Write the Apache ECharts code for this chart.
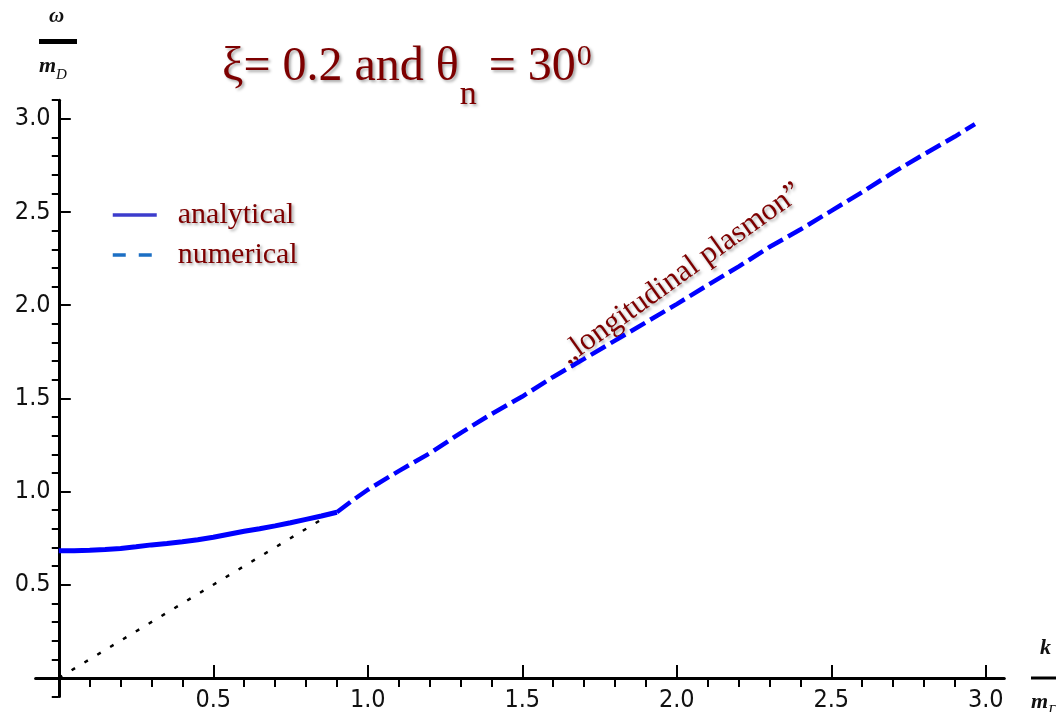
<!DOCTYPE html>
<html>
<head>
<meta charset="utf-8">
<style>
  html, body { margin: 0; padding: 0; background: #fff; }
  #chart { width: 1056px; height: 712px; }
</style>
<script src="https://cdn.jsdelivr.net/npm/echarts@6/dist/echarts.min.js"></script>
</head>
<body>
<div id="chart"></div>
<script>
// analytical branch (solid), below the light cone crossing
const kAnalytical = [0, 0.05, 0.1, 0.15, 0.2, 0.25, 0.3, 0.35, 0.4, 0.45, 0.5, 0.55, 0.6, 0.65, 0.7, 0.75, 0.8, 0.85, 0.9];
const wAnalytical = [0.683, 0.683, 0.685, 0.689, 0.695, 0.704, 0.714, 0.722, 0.731, 0.742, 0.755, 0.771, 0.787, 0.801, 0.816, 0.833, 0.851, 0.869, 0.889];

// numerical branch (dashed), "longitudinal plasmon"
const kNumerical = [0.9, 0.95, 1.0, 1.1, 1.2, 1.3, 1.4, 1.5, 1.6, 1.7, 1.8, 1.9, 2.0, 2.1, 2.2, 2.3, 2.4, 2.5, 2.6, 2.7, 2.8, 2.9, 2.965];
const wNumerical = [0.889, 0.952, 1.01, 1.11, 1.205, 1.314, 1.416, 1.51, 1.615, 1.712, 1.81, 1.908, 2.006, 2.108, 2.207, 2.312, 2.406, 2.506, 2.607, 2.712, 2.81, 2.905, 2.972];

// light cone omega = k (dotted)
const kLight = [0, 0.9];
const wLight = [0, 0.9];

// ticks
const xMajor = [0.5, 1.0, 1.5, 2.0, 2.5, 3.0];
const xMinor = [0.1, 0.2, 0.3, 0.4, 0.6, 0.7, 0.8, 0.9, 1.1, 1.2, 1.3, 1.4, 1.6, 1.7, 1.8, 1.9,
                2.1, 2.2, 2.3, 2.4, 2.6, 2.7, 2.8, 2.9];
const yMajor = [0.5, 1.0, 1.5, 2.0, 2.5, 3.0];
const yMinor = [-0.1, 0.1, 0.2, 0.3, 0.4, 0.6, 0.7, 0.8, 0.9, 1.1, 1.2, 1.3, 1.4, 1.6, 1.7, 1.8, 1.9,
                2.1, 2.2, 2.3, 2.4, 2.6, 2.7, 2.8, 2.9, 3.1];

const pairs = (xs, ys) => xs.map((x, i) => [x, ys[i]]);

const darkRed = '#7d0000';
const serif = "'Liberation Serif', serif";
const shadow = {
  textShadowColor: 'rgba(0,0,0,0.35)',
  textShadowBlur: 3,
  textShadowOffsetX: 2,
  textShadowOffsetY: 2
};
const labelFont = "'Liberation Sans Narrow', 'DejaVu Sans Condensed', 'Liberation Sans', sans-serif";

// measure text so sub/superscripts sit right after their base
const measureCtx = document.createElement('canvas').getContext('2d');
function textWidth(str, size, style) {
  measureCtx.font = (style || '') + ' ' + size + 'px ' + serif;
  return measureCtx.measureText(str).width;
}

const chart = echarts.init(document.getElementById('chart'));

const xRange = { min: -0.075, max: 3.06 };
const yRange = { min: -0.1, max: 3.1 };

// title pieces
const tX = 222;
const tMain = 'ξ= 0.2 and θ', tSub = 'n', tRest = ' = 30', tSup = '0';
const xSub = tX + textWidth(tMain, 48) + 1;
const xRest = xSub + textWidth(tSub, 34);
const xSup = xRest + textWidth(tRest, 48) + 1;

function titleText(x, y, text, size) {
  return {
    type: 'text', x: x, y: y,
    style: Object.assign({
      text: text, fontFamily: serif, fontSize: size, fill: darkRed,
      align: 'left', verticalAlign: 'middle'
    }, shadow)
  };
}

function axisName(x, y, text, size, bold) {
  return {
    type: 'text', x: x, y: y,
    style: {
      text: text, fontFamily: serif, fontStyle: 'italic', fontWeight: bold ? 'bold' : 'normal',
      fontSize: size, fill: '#111', align: 'left', verticalAlign: 'middle'
    }
  };
}

const option = {
  animation: false,
  backgroundColor: '#fff',
  grid: { left: 35.6, right: 51.7, top: 100.2, bottom: 15.4, outerBoundsMode: 'none' },
  legend: {
    orient: 'vertical',
    left: 111,
    top: 200,
    padding: 0,
    itemWidth: 44,
    itemHeight: 14,
    itemGap: 10,
    selectedMode: false,
    textStyle: Object.assign({
      fontFamily: serif,
      fontSize: 30,
      lineHeight: 30,
      color: darkRed,
      padding: [0, 0, 0, 16]
    }, shadow),
    data: [
      { name: 'analytical', itemStyle: { opacity: 0 }, lineStyle: { color: '#3c3ccc', width: 3.5, type: 'solid' } },
      { name: 'numerical', itemStyle: { opacity: 0 }, lineStyle: { color: '#1c6fc4', width: 3.5, type: [13, 13] } }
    ]
  },
  xAxis: [
    Object.assign({
      type: 'value',
      axisLine: { onZero: true, onZeroAxisIndex: 0, lineStyle: { color: '#000', width: 3 } },
      axisTick: { inside: true, length: 13, customValues: xMajor, lineStyle: { color: '#000', width: 2 } },
      axisLabel: {
        customValues: xMajor, margin: -8.6, color: '#111',
        fontFamily: labelFont, fontSize: 25,
        formatter: v => v.toFixed(1)
      },
      splitLine: { show: false }
    }, xRange),
    Object.assign({
      type: 'value',
      axisLine: { show: false, onZero: true, onZeroAxisIndex: 0 },
      axisTick: { inside: true, length: 9, customValues: xMinor, lineStyle: { color: '#000', width: 2 } },
      axisLabel: { show: false },
      splitLine: { show: false }
    }, xRange)
  ],
  yAxis: [
    Object.assign({
      type: 'value',
      axisLine: { onZero: true, onZeroAxisIndex: 0, lineStyle: { color: '#000', width: 3 } },
      axisTick: { inside: true, length: 12, customValues: yMajor, lineStyle: { color: '#000', width: 2 } },
      axisLabel: {
        customValues: yMajor, margin: -15, color: '#111',
        fontFamily: labelFont, fontSize: 25,
        formatter: v => v.toFixed(1)
      },
      splitLine: { show: false }
    }, yRange),
    Object.assign({
      type: 'value',
      axisLine: { show: false, onZero: true, onZeroAxisIndex: 0 },
      axisTick: { inside: true, length: 7, customValues: yMinor, lineStyle: { color: '#000', width: 2 } },
      axisLabel: { show: false },
      splitLine: { show: false }
    }, yRange)
  ],
  series: [
    {
      name: 'light cone',
      type: 'line',
      data: pairs(kLight, wLight),
      symbol: 'none',
      silent: true,
      z: 1,
      lineStyle: { color: '#000', width: 2.5, type: [4, 11] }
    },
    {
      name: 'analytical',
      type: 'line',
      data: pairs(kAnalytical, wAnalytical),
      symbol: 'none',
      z: 3,
      itemStyle: { color: '#0000ff' },
      lineStyle: { color: '#0000ff', width: 5 }
    },
    {
      name: 'numerical',
      type: 'line',
      data: pairs(kNumerical, wNumerical),
      symbol: 'none',
      z: 3,
      itemStyle: { color: '#0000ff' },
      lineStyle: { color: '#0000ff', width: 4.5, type: [17, 6] }
    }
  ],
  graphic: [
    // title
    titleText(tX, 67, tMain, 48),
    titleText(xSub, 95, tSub, 34),
    titleText(xRest, 67, tRest, 48),
    titleText(xSup, 57, tSup, 30),
    // annotation along the plasmon branch
    {
      type: 'text', x: 681, y: 274, rotation: 0.62,
      style: Object.assign({
        text: '„longitudinal plasmon”',
        fontFamily: serif,
        fontSize: 31,
        fill: darkRed,
        align: 'center',
        verticalAlign: 'middle'
      }, shadow)
    },
    // y axis name  omega / m_D
    axisName(49, 17, 'ω', 21, true),
    { type: 'rect', shape: { x: 39, y: 39, width: 38, height: 5 }, style: { fill: '#000' } },
    axisName(39, 66, 'm', 22, true),
    axisName(39 + textWidth('m', 22, 'italic bold'), 75, 'D', 15, false),
    // x axis name  k / m_D
    axisName(1040, 648, 'k', 22, true),
    { type: 'rect', shape: { x: 1031, y: 676.5, width: 30, height: 3 }, style: { fill: '#000' } },
    axisName(1031, 702, 'm', 22, true),
    axisName(1031 + textWidth('m', 22, 'italic bold'), 711, 'D', 15, false)
  ]
};

chart.setOption(option);

window.addEventListener('resize', () => {
  chart.resize();
});
</script>
</body>
</html>
